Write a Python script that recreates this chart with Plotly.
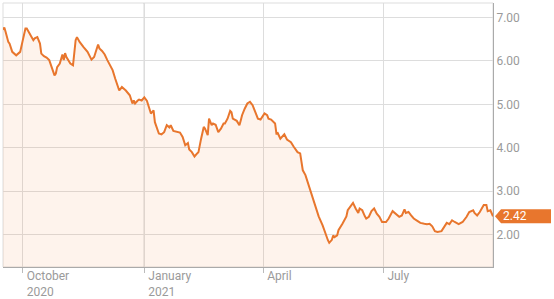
import plotly.graph_objects as go

dates = [
    "2020-09-16", "2020-09-17", "2020-09-18", "2020-09-20", "2020-09-21", "2020-09-23", "2020-09-26", "2020-09-28",
    "2020-09-29", "2020-10-01", "2020-10-03", "2020-10-04", "2020-10-06", "2020-10-09", "2020-10-10", "2020-10-12",
    "2020-10-14", "2020-10-15", "2020-10-17", "2020-10-19", "2020-10-21", "2020-10-23", "2020-10-25", "2020-10-26",
    "2020-10-27", "2020-10-29", "2020-10-31", "2020-11-01", "2020-11-02", "2020-11-03", "2020-11-06", "2020-11-08",
    "2020-11-09", "2020-11-10", "2020-11-11", "2020-11-13", "2020-11-16", "2020-11-19", "2020-11-22", "2020-11-24",
    "2020-11-27", "2020-11-28", "2020-11-30", "2020-12-02", "2020-12-04", "2020-12-06", "2020-12-08", "2020-12-10",
    "2020-12-12", "2020-12-13", "2020-12-15", "2020-12-18", "2020-12-21", "2020-12-23", "2020-12-24", "2020-12-25",
    "2020-12-27", "2020-12-28", "2020-12-30", "2021-01-01", "2021-01-03", "2021-01-04", "2021-01-06", "2021-01-08",
    "2021-01-09", "2021-01-12", "2021-01-14", "2021-01-16", "2021-01-18", "2021-01-20", "2021-01-21", "2021-01-23",
    "2021-01-26", "2021-01-28", "2021-01-30", "2021-02-01", "2021-02-03", "2021-02-04", "2021-02-06", "2021-02-08",
    "2021-02-10", "2021-02-11", "2021-02-13", "2021-02-15", "2021-02-16", "2021-02-18", "2021-02-19", "2021-02-21",
    "2021-02-22", "2021-02-24", "2021-02-26", "2021-02-28", "2021-03-02", "2021-03-03", "2021-03-05", "2021-03-07",
    "2021-03-08", "2021-03-09", "2021-03-12", "2021-03-14", "2021-03-15", "2021-03-16", "2021-03-18", "2021-03-20",
    "2021-03-22", "2021-03-24", "2021-03-25", "2021-03-28", "2021-03-30", "2021-03-31", "2021-04-02", "2021-04-04",
    "2021-04-05", "2021-04-07", "2021-04-09", "2021-04-10", "2021-04-11", "2021-04-12", "2021-04-14", "2021-04-16",
    "2021-04-17", "2021-04-19", "2021-04-22", "2021-04-24", "2021-04-27", "2021-04-29", "2021-04-30", "2021-05-01",
    "2021-05-03", "2021-05-06", "2021-05-08", "2021-05-11", "2021-05-13", "2021-05-16", "2021-05-18", "2021-05-20",
    "2021-05-21", "2021-05-23", "2021-05-24", "2021-05-25", "2021-05-27", "2021-05-28", "2021-05-31", "2021-06-03",
    "2021-06-04", "2021-06-06", "2021-06-08", "2021-06-10", "2021-06-12", "2021-06-13", "2021-06-15", "2021-06-17",
    "2021-06-18", "2021-06-20", "2021-06-22", "2021-06-24", "2021-06-26", "2021-06-28", "2021-06-30", "2021-07-03",
    "2021-07-05", "2021-07-08", "2021-07-10", "2021-07-13", "2021-07-15", "2021-07-17", "2021-07-18", "2021-07-20",
    "2021-07-22", "2021-07-24", "2021-07-27", "2021-07-29", "2021-08-01", "2021-08-03", "2021-08-05", "2021-08-07",
    "2021-08-09", "2021-08-11", "2021-08-14", "2021-08-16", "2021-08-18", "2021-08-20", "2021-08-22", "2021-08-24",
    "2021-08-26", "2021-08-27", "2021-08-30", "2021-09-02", "2021-09-04", "2021-09-07", "2021-09-08", "2021-09-10",
    "2021-09-12", "2021-09-15", "2021-09-17", "2021-09-18", "2021-09-20", "2021-09-22",
]

prices = [
    6.72, 6.77, 6.67, 6.44, 6.40, 6.21, 6.13, 6.17,
    6.21, 6.48, 6.75, 6.75, 6.63, 6.48, 6.52, 6.55,
    6.40, 6.17, 6.11, 6.08, 6.02, 5.86, 5.67, 5.71,
    5.86, 5.94, 6.15, 6.02, 6.18, 6.09, 5.94, 5.90,
    6.17, 6.48, 6.55, 6.44, 6.32, 6.21, 6.03, 6.09,
    6.38, 6.29, 6.23, 6.15, 6.02, 5.90, 5.79, 5.59,
    5.44, 5.32, 5.40, 5.32, 5.21, 5.02, 5.09, 5.02,
    5.09, 5.11, 5.09, 5.16, 5.08, 4.98, 4.79, 4.86,
    4.59, 4.33, 4.31, 4.36, 4.52, 4.47, 4.52, 4.39,
    4.36, 4.35, 4.25, 4.06, 4.11, 3.96, 3.90, 3.80,
    3.87, 3.90, 4.21, 4.48, 4.44, 4.29, 4.67, 4.52,
    4.56, 4.53, 4.36, 4.44, 4.56, 4.56, 4.67, 4.85,
    4.82, 4.67, 4.62, 4.52, 4.63, 4.75, 4.90, 5.02,
    5.06, 4.98, 4.90, 4.67, 4.65, 4.70, 4.79, 4.75,
    4.67, 4.65, 4.59, 4.56, 4.33, 4.34, 4.21, 4.29,
    4.31, 4.19, 4.13, 4.03, 3.90, 3.87, 3.71, 3.48,
    3.37, 3.10, 2.87, 2.64, 2.42, 2.21, 2.02, 1.87,
    1.81, 1.88, 1.98, 1.94, 1.98, 2.10, 2.25, 2.42,
    2.56, 2.64, 2.73, 2.60, 2.50, 2.60, 2.56, 2.42,
    2.37, 2.41, 2.54, 2.60, 2.48, 2.41, 2.29, 2.29,
    2.37, 2.54, 2.48, 2.41, 2.44, 2.58, 2.50, 2.52,
    2.44, 2.37, 2.31, 2.27, 2.25, 2.24, 2.25, 2.19,
    2.08, 2.06, 2.08, 2.18, 2.27, 2.24, 2.33, 2.29,
    2.25, 2.24, 2.29, 2.41, 2.52, 2.56, 2.50, 2.44,
    2.52, 2.68, 2.68, 2.54, 2.56, 2.42,
]

x_tick_vals = ["2020-10-01", "2021-01-01", "2021-04-01", "2021-07-01"]
x_tick_text = ["October<br>2020", "January<br>2021", "April", "July"]
y_tick_vals = [2, 3, 4, 5, 6, 7]
x_range = ["2020-09-16", "2021-09-22"]
y_range = [1.253, 7.336]
year_boundary = "2021-01-01"

LINE = "#e8762d"
FILL = "rgba(240,125,45,0.09)"
FONT = "Roboto"

fig = go.Figure()
fig.add_trace(go.Scatter(
    x=dates, y=prices, mode="lines",
    line=dict(color=LINE, width=2),
    fill="tozeroy", fillcolor=FILL,
    hoverinfo="skip",
))

last_value = prices[-1]

fig.update_layout(
    width=554, height=299,
    margin=dict(l=3, r=61, t=3, b=32),
    paper_bgcolor="white", plot_bgcolor="white",
    showlegend=False,
    font=dict(family=FONT, size=12, color="#999999"),
    xaxis=dict(
        type="date", range=x_range, automargin=False,
        tickvals=x_tick_vals, ticktext=x_tick_text,
        ticklabelposition="outside right",
        ticklabelstandoff=-2, ticklabelshift=3,
        showgrid=True, gridcolor="#dddddd", gridwidth=1,
        ticks="outside", ticklen=5, tickcolor="#bbbbbb",
        showline=True, linecolor="#aaaaaa", linewidth=1,
        zeroline=False,
        tickfont=dict(family=FONT, size=12, color="#9a9a9a"),
    ),
    yaxis=dict(
        range=y_range, side="right", automargin=False,
        tickvals=y_tick_vals, tickformat=".2f",
        showgrid=True, gridcolor="#dddddd", gridwidth=1,
        ticks="",
        showline=True, linecolor="#aaaaaa", linewidth=1,
        zeroline=False,
        tickfont=dict(family=FONT, size=12, color="#9a9a9a"),
    ),
    shapes=[
        dict(type="rect", xref="paper", yref="paper", x0=0, x1=1, y0=0, y1=1,
             line=dict(color="#dddddd", width=1), layer="below"),
        dict(type="line", xref="x", yref="paper", x0=year_boundary, x1=year_boundary,
             y0=0, y1=1, line=dict(color="#999999", width=1), layer="below"),
        dict(type="path", xref="paper", yref="y", xsizemode="pixel", ysizemode="pixel",
             xanchor=1, yanchor=last_value,
             path="M 2,0 L 8,7 L 58,7 L 58,-7 L 8,-7 Z",
             fillcolor=LINE, line=dict(width=0), layer="above"),
    ],
    annotations=[
        dict(xref="paper", yref="y", x=1, y=last_value, xanchor="left", yanchor="middle",
             xshift=8, text=f"{last_value:.2f}", showarrow=False,
             font=dict(family=FONT, size=12, color="white")),
    ],
)

fig.write_html("out.html", config={"displayModeBar": False})
